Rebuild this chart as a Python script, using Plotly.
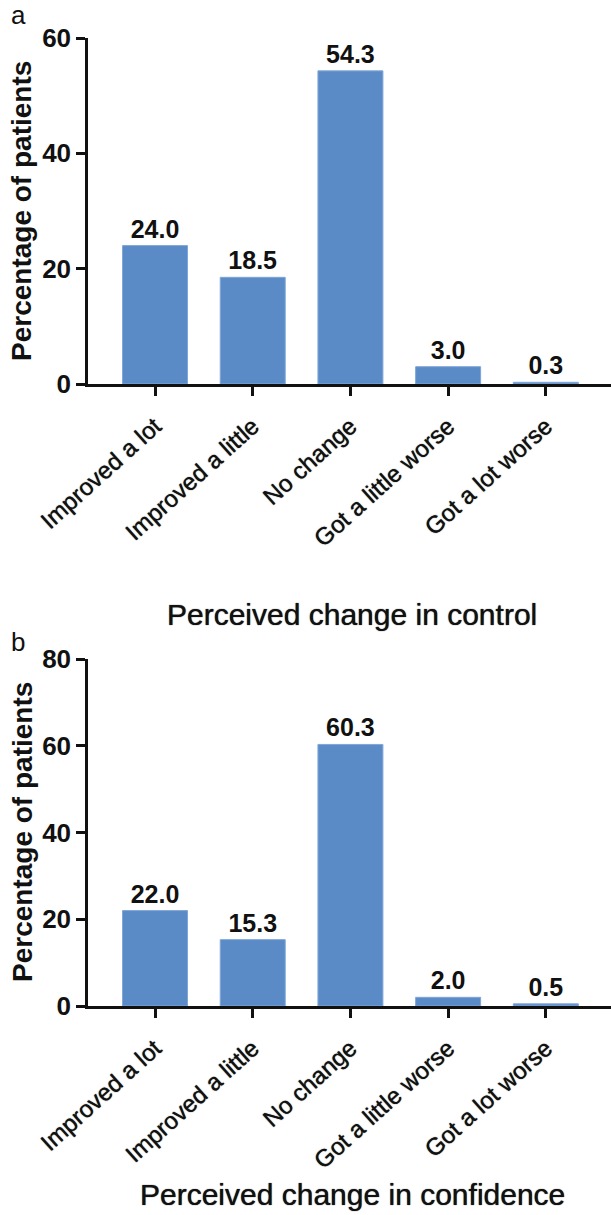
import plotly.graph_objects as go

# Survey responses: perceived change after treatment (percentage of patients)
categories = ["Improved a lot", "Improved a little", "No change",
              "Got a little worse", "Got a lot worse"]
control_pct = [24.0, 18.5, 54.3, 3.0, 0.3]
confidence_pct = [22.0, 15.3, 60.3, 2.0, 0.5]
control_ticks = [0, 20, 40, 60]
confidence_ticks = [0, 20, 40, 60, 80]

W, H = 611, 1215
LEFT = 88
BAR_COLOR = "#5a8bc7"
INK = "#111111"
FONT = "Liberation Sans"
HEAVY = "0px 0px 1px #111111"   # slight stroke so regular text reads a bit heavier


def yp(px):
    """Pixel row (from top) to paper y."""
    return 1 - px / H


def xp(px):
    """Pixel column to paper x (plot area starts at LEFT)."""
    return (px - LEFT) / (W - LEFT)


fig = go.Figure()

for vals, xa, ya in [(control_pct, "x", "y"), (confidence_pct, "x2", "y2")]:
    fig.add_trace(go.Bar(
        x=categories, y=vals, xaxis=xa, yaxis=ya,
        marker=dict(color=BAR_COLOR, line=dict(color="#7fa6d6", width=1)),
        text=[f"{v:.1f}" for v in vals],
        textposition="outside",
        textfont=dict(family=FONT, size=25, color=INK, weight="bold"),
        cliponaxis=False,
        showlegend=False,
    ))

xaxis_common = dict(
    type="category", range=[-0.686, 4.667], automargin=False,
    showline=True, linecolor=INK, linewidth=2.5,
    ticks="outside", ticklen=9, tickwidth=2.5, tickcolor=INK,
    tickangle=-42, ticklabelstandoff=7,
    tickfont=dict(family=FONT, size=24, color=INK, shadow=HEAVY),
    showgrid=False, zeroline=False, fixedrange=True,
)
yaxis_common = dict(
    automargin=False,
    showline=True, linecolor=INK, linewidth=2.5,
    ticks="outside", ticklen=9, tickwidth=2.5, tickcolor=INK,
    tickfont=dict(family=FONT, size=26, color=INK, weight="bold"),
    showgrid=False, zeroline=False, fixedrange=True,
)

fig.update_layout(
    template="none",
    width=W, height=H,
    margin=dict(l=LEFT, r=0, t=0, b=0, autoexpand=False),
    paper_bgcolor="white", plot_bgcolor="white",
    bargap=0.335,
    xaxis=dict(**xaxis_common, domain=[0, 1], anchor="y"),
    yaxis=dict(**yaxis_common, domain=[yp(384), yp(38)], range=[0, 60],
               tickvals=control_ticks),
    xaxis2=dict(**xaxis_common, domain=[0, 1], anchor="y2"),
    yaxis2=dict(**yaxis_common, domain=[yp(1006), yp(659)], range=[0, 80],
                tickvals=confidence_ticks),
)

annotations = [
    # panel letters
    dict(text="a", x=xp(18), y=yp(15), font=dict(size=26)),
    dict(text="b", x=xp(18), y=yp(642), font=dict(size=26)),
    # y-axis titles
    dict(text="<b>Percentage of patients</b>", x=xp(22), y=yp(211),
         textangle=-90, font=dict(size=28)),
    dict(text="<b>Percentage of patients</b>", x=xp(22), y=yp(832),
         textangle=-90, font=dict(size=28)),
    # x-axis titles
    dict(text="Perceived change in control", x=xp(352), y=yp(614),
         font=dict(size=30, shadow=HEAVY)),
    dict(text="Perceived change in confidence", x=xp(352), y=yp(1194),
         font=dict(size=30, shadow=HEAVY)),
]
for a in annotations:
    a.update(xref="paper", yref="paper", showarrow=False,
             xanchor="center", yanchor="middle")
    a["font"].update(family=FONT, color=INK)
fig.update_layout(annotations=annotations)

fig.write_html("out.html")
